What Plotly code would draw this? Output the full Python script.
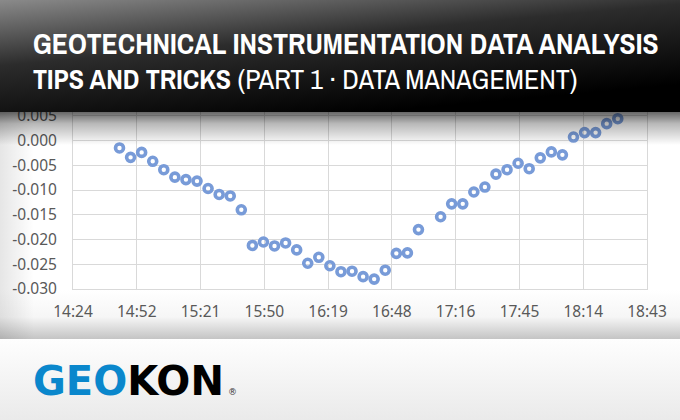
import base64
import plotly.graph_objects as go

# readings every 5 min (17:05 missing in the record)
times = ["14:45", "14:50", "14:55", "15:00", "15:05", "15:10", "15:15", "15:20",
         "15:25", "15:30", "15:35", "15:40", "15:45", "15:50", "15:55", "16:00",
         "16:05", "16:10", "16:15", "16:20", "16:25", "16:30", "16:35", "16:40",
         "16:45", "16:50", "16:55", "17:00", "17:10", "17:15", "17:20", "17:25",
         "17:30", "17:35", "17:40", "17:45", "17:50", "17:55", "18:00", "18:05",
         "18:10", "18:15", "18:20", "18:25", "18:30"]
values = [-0.0015, -0.0034, -0.0024, -0.0042, -0.0059, -0.0074, -0.0079, -0.0082,
          -0.0097, -0.0109, -0.0112, -0.0140, -0.0212, -0.0205, -0.0213, -0.0207,
          -0.0221, -0.0248, -0.0236, -0.0253, -0.0265, -0.0264, -0.0275, -0.0280,
          -0.0262, -0.0228, -0.0227, -0.0180, -0.0154, -0.0128, -0.0128, -0.0104,
          -0.0094, -0.0068, -0.0059, -0.0046, -0.0057, -0.0035, -0.0023, -0.0029,
          0.0007, 0.0016, 0.0016, 0.0034, 0.0044]

y_tickvals = [0.005, 0.0, -0.005, -0.010, -0.015, -0.020, -0.025, -0.030]
y_ticktext = ["0.005", "0.000", "-0.005", "-0.010", "-0.015", "-0.020", "-0.025", "-0.030"]

day = "2020-01-01 "
x = [day + t for t in times]

W, H = 680, 420
L, R, T, B = 73, 33, 91, 131


def px(v):
    return (v - L) / (W - L - R)


def py(v):
    return (H - B - v) / (H - T - B)


def svg_uri(svg):
    return "data:image/svg+xml;base64," + base64.b64encode(svg.encode()).decode()


# page background: chart fade at the bottom, light footer band
bg_svg = f"""<svg xmlns="http://www.w3.org/2000/svg" width="{W}" height="{H}" viewBox="0 0 {W} {H}" preserveAspectRatio="none">
<defs>
<linearGradient id="fade" x1="0" y1="0" x2="0" y2="1">
<stop offset="0" stop-color="#ffffff"/><stop offset="0.55" stop-color="#f6f6f6"/><stop offset="1" stop-color="#c4c4c4"/>
</linearGradient>
<linearGradient id="foot" x1="0" y1="0" x2="0" y2="1">
<stop offset="0" stop-color="#fefefe"/><stop offset="1" stop-color="#eaeaea"/>
</linearGradient>
<linearGradient id="side" x1="0" y1="0" x2="1" y2="0">
<stop offset="0" stop-color="#000" stop-opacity="0.10"/><stop offset="0.05" stop-color="#000" stop-opacity="0"/>
</linearGradient>
</defs>
<rect x="0" y="0" width="{W}" height="290" fill="#ffffff"/>
<rect x="0" y="290" width="{W}" height="49" fill="url(#fade)"/>
<rect x="0" y="112" width="{W}" height="227" fill="url(#side)"/>
<rect x="0" y="339" width="{W}" height="81" fill="url(#foot)"/>
</svg>"""

# dark header with its drop shadow over the chart
head_svg = f"""<svg xmlns="http://www.w3.org/2000/svg" width="{W}" height="145" viewBox="0 0 {W} 145" preserveAspectRatio="none">
<defs>
<linearGradient id="hd" x1="0" y1="0" x2="0.55" y2="1">
<stop offset="0" stop-color="#8a8a8a"/><stop offset="0.45" stop-color="#2c2c2c"/><stop offset="1" stop-color="#000000"/>
</linearGradient>
<linearGradient id="sh" x1="0" y1="0" x2="0" y2="1">
<stop offset="0" stop-color="#000" stop-opacity="0.6"/><stop offset="0.35" stop-color="#000" stop-opacity="0.28"/><stop offset="1" stop-color="#000" stop-opacity="0"/>
</linearGradient>
</defs>
<rect x="0" y="0" width="{W}" height="112" fill="url(#hd)"/>
<rect x="0" y="112" width="{W}" height="33" fill="url(#sh)"/>
</svg>"""

fig = go.Figure()
fig.add_trace(go.Scatter(
    x=x, y=values, mode="markers",
    marker=dict(symbol="circle-open", size=8, color="#789bd8", line=dict(width=3.6, color="#789bd8")),
    showlegend=False, hoverinfo="x+y"))

fig.add_layout_image(dict(source=svg_uri(bg_svg), xref="paper", yref="paper",
                          x=px(0), y=py(0), sizex=W / (W - L - R), sizey=H / (H - T - B),
                          xanchor="left", yanchor="top", sizing="stretch", layer="below"))
fig.add_layout_image(dict(source=svg_uri(head_svg), xref="paper", yref="paper",
                          x=px(0), y=py(0), sizex=W / (W - L - R), sizey=145 / (H - T - B),
                          xanchor="left", yanchor="top", sizing="stretch", layer="above"))

title_font = dict(family="Archivo Narrow, Roboto", color="white", size=28)
fig.add_annotation(text="<b>GEOTECHNICAL INSTRUMENTATION DATA ANALYSIS</b>",
                   xref="paper", yref="paper", x=px(31), y=py(43), xanchor="left", yanchor="middle",
                   showarrow=False, font=dict(title_font, size=29.5))
fig.add_annotation(text="<b>TIPS AND TRICKS</b> (PART 1 · DATA MANAGEMENT)",
                   xref="paper", yref="paper", x=px(31), y=py(79), xanchor="left", yanchor="middle",
                   showarrow=False, font=title_font)

fig.add_annotation(text='<b><span style="color:#0a87cc">GEO</span>KON</b>',
                   xref="paper", yref="paper", x=px(31), y=py(381), xanchor="left", yanchor="middle",
                   showarrow=False, font=dict(family="DejaVu Sans", size=40, color="#000000"))
fig.add_annotation(text="®", xref="paper", yref="paper", x=px(226), y=py(392),
                   xanchor="left", yanchor="middle", showarrow=False,
                   font=dict(family="DejaVu Sans", size=9, color="#333333"))

grid = "#d9d9d9"
tick_font = dict(family="Noto Sans, Open Sans", size=15.5, color="#595959")
fig.update_xaxes(type="date", range=[day + "14:24", day + "18:43:12"],
                 tick0=day + "14:24", dtick=1728000, tickformat="%H:%M",
                 showgrid=True, gridcolor=grid, gridwidth=1, zeroline=False,
                 showline=True, linecolor=grid, mirror=True, ticks="",
                 ticklabelstandoff=8, tickfont=tick_font)
fig.update_yaxes(range=[-0.030, 0.010], tickmode="array", tickvals=y_tickvals, ticktext=y_ticktext,
                 showgrid=True, gridcolor=grid, gridwidth=1, zeroline=False,
                 showline=True, linecolor=grid, mirror=True, ticks="",
                 ticklabelstandoff=12, tickfont=tick_font)

fig.update_layout(width=W, height=H, margin=dict(l=L, r=R, t=T, b=B),
                  paper_bgcolor="white", plot_bgcolor="rgba(0,0,0,0)")

fig.write_html("out.html", config={"displayModeBar": False},
               post_script="document.body.style.margin='0';")
